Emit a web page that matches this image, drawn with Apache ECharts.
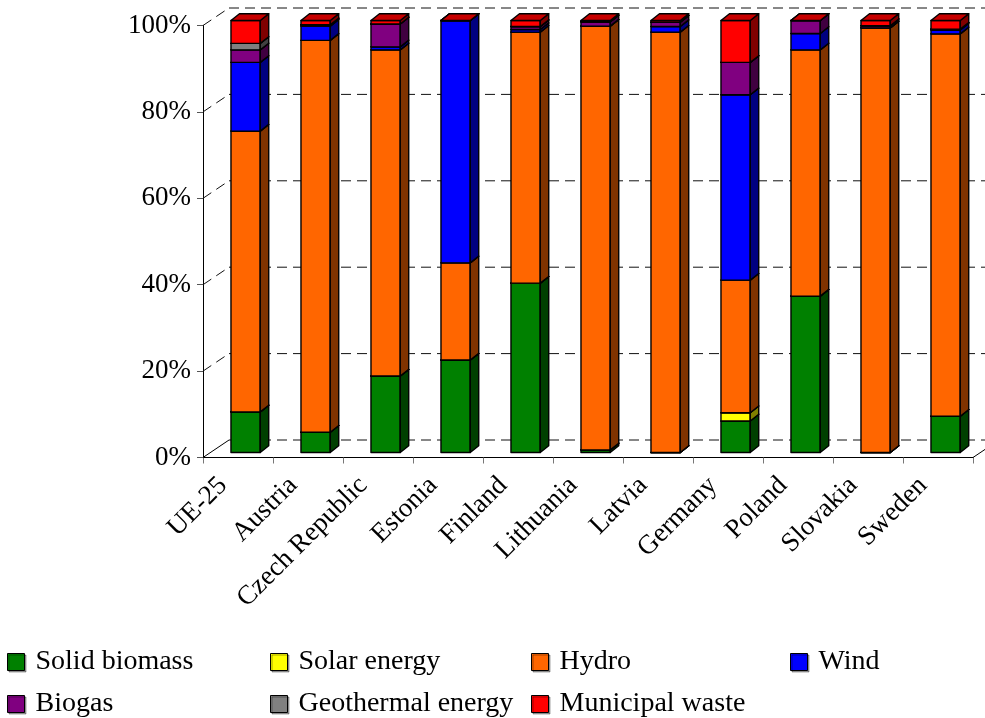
<!DOCTYPE html>
<html>
<head>
<meta charset="utf-8">
<title>Renewable electricity by source</title>
<script src="https://cdn.jsdelivr.net/npm/echarts@6/dist/echarts.min.js"></script>
<style>
  html, body { margin: 0; padding: 0; background: #fff; }
  #chart { width: 985px; height: 718px; }
</style>
</head>
<body>
<div id="chart"></div>
<script>
// Share of each renewable source in electricity generation (%)
const categories = ['UE-25', 'Austria', 'Czech Republic', 'Estonia', 'Finland', 'Lithuania',
  'Latvia', 'Germany', 'Poland', 'Slovakia', 'Sweden'];
const solidBiomass   = [9.4, 4.7, 17.7, 21.4, 39.2, 0.6, 0.0, 7.3, 36.2, 0.0, 8.4];
const solarEnergy    = [0.0, 0.0, 0.0, 0.0, 0.0, 0.0, 0.0, 1.9, 0.0, 0.0, 0.0];
const hydro          = [65.0, 90.7, 75.5, 22.5, 58.1, 98.1, 97.3, 30.7, 57.0, 98.3, 88.5];
const wind           = [15.9, 3.3, 0.7, 56.1, 0.6, 0.0, 1.3, 42.9, 3.8, 0.0, 0.9];
const biogas         = [2.9, 0.3, 5.3, 0.0, 0.7, 1.0, 1.0, 7.5, 3.0, 0.5, 0.2];
const geothermal     = [1.5, 0.0, 0.0, 0.0, 0.0, 0.0, 0.0, 0.0, 0.0, 0.0, 0.0];
const municipalWaste = [5.3, 1.0, 0.8, 0.0, 1.4, 0.3, 0.4, 9.7, 0.0, 1.2, 2.0];
const yTicks = [0, 20, 40, 60, 80, 100];

const seriesDefs = [
  { name: 'Solid biomass', values: solidBiomass, color: '#008000' },
  { name: 'Solar energy', values: solarEnergy, color: '#FFFF00' },
  { name: 'Hydro', values: hydro, color: '#FF6600' },
  { name: 'Wind', values: wind, color: '#0000FF' },
  { name: 'Biogas', values: biogas, color: '#800080' },
  { name: 'Geothermal energy', values: geothermal, color: '#808080' },
  { name: 'Municipal waste', values: municipalWaste, color: '#FF0000' }
];

const FONT = "'Liberation Serif', 'Times New Roman', serif";
// 3D projection: full depth of the plot box and placement of the columns inside it
const DEPTH_X = 26, DEPTH_Y = -17.5;
const FRONT_X = 7.6, FRONT_Y = -5.0;   // column front plane
const SIDE_X = 8.5, SIDE_Y = -6.7;     // column depth
const BAR_RATIO = 0.418;

function shade(hex, k) {
  const n = parseInt(hex.slice(1), 16);
  const r = Math.round(((n >> 16) & 255) * k);
  const g = Math.round(((n >> 8) & 255) * k);
  const b = Math.round((n & 255) * k);
  return 'rgb(' + r + ',' + g + ',' + b + ')';
}

// stacked segments: [category index, base, top]
const cumulative = categories.map(() => 0);
const barSeries = seriesDefs.map((def) => {
  const data = def.values.map((v, i) => {
    const base = cumulative[i];
    cumulative[i] = base + v;
    return [i, base, base + v];
  });
  const sideColor = shade(def.color, 0.5);
  const topColor = shade(def.color, 0.78);
  return {
    type: 'custom',
    name: def.name,
    z: 3,
    itemStyle: { color: def.color },
    encode: { x: 0, y: [1, 2] },
    data: data,
    renderItem: function (params, api) {
      const i = api.value(0);
      const pb = api.coord([i, api.value(1)]);
      const pt = api.coord([i, api.value(2)]);
      const bw = api.size([1, 0])[0] * BAR_RATIO;
      const x0 = pb[0] + FRONT_X - bw / 2;
      const x1 = x0 + bw;
      const yb = pb[1] + FRONT_Y;
      const yt = pt[1] + FRONT_Y;
      const stroke = { stroke: '#000', lineWidth: 1.4, lineJoin: 'round' };
      return {
        type: 'group',
        children: [
          { type: 'polygon', shape: { points: [[x0, yb], [x1, yb], [x1, yt], [x0, yt]] },
            style: Object.assign({ fill: def.color }, stroke) },
          { type: 'polygon', shape: { points: [[x1, yb], [x1 + SIDE_X, yb + SIDE_Y], [x1 + SIDE_X, yt + SIDE_Y], [x1, yt]] },
            style: Object.assign({ fill: sideColor }, stroke) },
          { type: 'polygon', shape: { points: [[x0, yt], [x1, yt], [x1 + SIDE_X, yt + SIDE_Y], [x0 + SIDE_X, yt + SIDE_Y]] },
            style: Object.assign({ fill: topColor }, stroke) }
        ]
      };
    }
  };
});

// walls and floor of the plot box, one item per value tick
const frameSeries = {
  type: 'custom',
  name: 'frame',
  z: 1,
  silent: true,
  data: yTicks.map(v => [0, v]),
  encode: { x: 0, y: 1 },
  renderItem: function (params, api) {
    const cs = params.coordSys;
    const y = api.coord([0, api.value(1)])[1];
    const isFloor = api.value(1) === 0;
    const dash = { stroke: '#111', lineWidth: 1, lineDash: [10, 6] };
    const solid = { stroke: '#000', lineWidth: 1 };
    const children = [
      { type: 'line', shape: { x1: cs.x, y1: y, x2: cs.x + DEPTH_X, y2: y + DEPTH_Y },
        style: isFloor ? solid : dash },
      { type: 'line', shape: { x1: cs.x + DEPTH_X, y1: y + DEPTH_Y, x2: cs.x + cs.width + DEPTH_X, y2: y + DEPTH_Y },
        style: dash }
    ];
    if (isFloor) {
      children.push({ type: 'line',
        shape: { x1: cs.x + cs.width, y1: y, x2: cs.x + cs.width + DEPTH_X, y2: y + DEPTH_Y },
        style: solid });
    }
    return { type: 'group', children: children };
  }
};

const legendPos = [
  { name: 'Solid biomass', left: 7, top: 648 },
  { name: 'Solar energy', left: 270, top: 648 },
  { name: 'Hydro', left: 531, top: 648 },
  { name: 'Wind', left: 790, top: 648 },
  { name: 'Biogas', left: 7, top: 690 },
  { name: 'Geothermal energy', left: 270, top: 690 },
  { name: 'Municipal waste', left: 531, top: 690 }
];

const option = {
  animation: false,
  backgroundColor: '#fff',
  textStyle: { fontFamily: FONT },
  grid: { left: 203, top: 25.5, width: 770, height: 432 },
  xAxis: {
    type: 'category',
    data: categories,
    boundaryGap: true,
    axisLine: { lineStyle: { color: '#000', width: 1 } },
    axisTick: { show: true, length: 6, lineStyle: { color: '#777' } },
    axisLabel: {
      rotate: 45, margin: 9, color: '#000',
      fontFamily: FONT, fontSize: 27, interval: 0,
      padding: [0, 21, 0, 0]
    },
    splitLine: { show: false }
  },
  yAxis: {
    type: 'value',
    min: 0, max: 100, interval: 20,
    axisLine: { show: true, lineStyle: { color: '#000', width: 1 } },
    axisTick: { show: true, length: 6, lineStyle: { color: '#555' } },
    axisLabel: { formatter: '{value}%', margin: 12, color: '#000', fontFamily: FONT, fontSize: 27 },
    splitLine: { show: false }
  },
  legend: legendPos.map(p => ({
    data: [p.name],
    left: p.left, top: p.top,
    padding: 0,
    selectedMode: false,
    icon: 'rect',
    itemWidth: 17, itemHeight: 17,
    itemStyle: { borderColor: '#000', borderWidth: 1, shadowColor: 'rgba(0,0,0,0.35)', shadowOffsetX: 1.5, shadowOffsetY: 1.5 },
    textStyle: { fontFamily: FONT, fontSize: 28, color: '#000', lineHeight: 17, padding: [0, 0, 0, 6] }
  })),
  series: [frameSeries].concat(barSeries)
};

const chart = echarts.init(document.getElementById('chart'), null, { renderer: 'canvas' });
chart.setOption(option);
</script>
</body>
</html>
